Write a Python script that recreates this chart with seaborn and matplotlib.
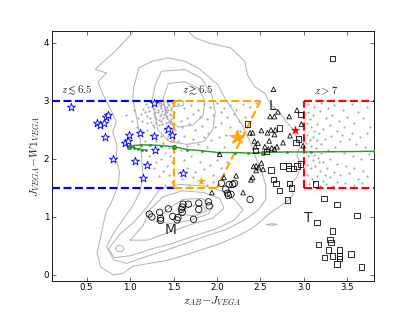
import matplotlib
matplotlib.use("Agg")
import matplotlib.pyplot as plt
import seaborn as sns

# ---------------------------------------------------------------------------
# data
# ---------------------------------------------------------------------------
# density contours of the background population (outlines, data coords)
contour_outer = [(1.08, 4.26), (0.92, 4.0), (0.81, 3.83), (0.65, 3.62), (0.60, 3.54), (0.73, 3.48),
                 (0.63, 3.33), (0.69, 3.10), (0.77, 2.87), (0.84, 2.64), (0.80, 2.46), (0.85, 2.23),
                 (0.84, 2.0), (0.88, 1.77), (0.86, 1.54), (0.80, 1.30), (0.72, 1.07), (0.67, 0.72),
                 (0.62, 0.38), (0.66, 0.14), (0.81, 0.0), (0.92, 0.03), (1.03, 0.15), (1.22, 0.20),
                 (1.42, 0.25), (1.65, 0.35), (1.85, 0.45), (2.05, 0.55), (2.25, 0.68), (2.40, 0.80),
                 (2.52, 0.95), (2.62, 1.08), (2.72, 1.18), (2.80, 1.26), (2.88, 1.38), (2.84, 1.55),
                 (2.92, 1.69), (2.97, 1.92), (2.92, 2.04), (2.95, 2.24), (2.88, 2.50), (2.78, 2.67),
                 (2.72, 2.81), (2.62, 2.93), (2.55, 3.13), (2.43, 3.25), (2.35, 3.45), (2.32, 3.68),
                 (2.16, 3.91), (1.90, 4.0), (1.74, 4.09), (1.63, 4.26)]
contour_2 = [(1.04, 3.22), (1.10, 3.57), (1.25, 3.68), (1.44, 3.74), (1.63, 3.68), (1.78, 3.57),
             (2.01, 3.28), (2.09, 3.04), (2.20, 2.80), (2.29, 2.58), (2.38, 2.30), (2.45, 2.0),
             (2.52, 1.75), (2.56, 1.54), (2.56, 1.30), (2.48, 1.13), (2.33, 0.96), (2.10, 0.78),
             (1.87, 0.67), (1.65, 0.55), (1.42, 0.43), (1.19, 0.32), (0.96, 0.20), (0.81, 0.26),
             (0.73, 0.49), (0.81, 0.72), (0.92, 0.96), (1.03, 1.19), (1.11, 1.42), (1.15, 1.71),
             (1.13, 2.06), (1.11, 2.40), (1.07, 2.75), (1.03, 3.04), (1.04, 3.22)]
contour_up1 = [(1.25, 3.0), (1.29, 3.28), (1.36, 3.51), (1.63, 3.54), (1.82, 3.39), (1.94, 3.10),
               (1.98, 2.80), (1.95, 2.50), (1.85, 2.30), (1.65, 2.25), (1.45, 2.30), (1.32, 2.50),
               (1.25, 3.0)]
contour_up2 = [(1.38, 3.05), (1.44, 3.30), (1.63, 3.33), (1.78, 3.22), (1.86, 3.01), (1.84, 2.75),
               (1.72, 2.58), (1.55, 2.55), (1.42, 2.70), (1.38, 3.05)]
contour_up3 = [(1.50, 2.93), (1.53, 3.0), (1.58, 3.02), (1.62, 2.98), (1.61, 2.92), (1.55, 2.90),
               (1.50, 2.93)]
contour_lo1 = [(0.75, 0.45), (0.88, 0.70), (1.05, 0.92), (1.20, 1.18), (1.34, 1.48), (1.57, 1.56),
               (1.87, 1.53), (2.05, 1.45), (2.20, 1.30), (2.30, 1.12), (2.20, 0.95), (2.0, 0.80),
               (1.75, 0.68), (1.50, 0.55), (1.25, 0.45), (1.0, 0.33), (0.82, 0.30), (0.75, 0.45)]
contour_lo2 = [(1.0, 0.6), (1.15, 0.85), (1.23, 1.13), (1.38, 1.35), (1.60, 1.45), (1.85, 1.42),
               (2.03, 1.32), (2.08, 1.15), (1.95, 0.98), (1.72, 0.88), (1.48, 0.75), (1.20, 0.60),
               (1.0, 0.6)]
contour_lo3 = [(1.30, 0.92), (1.42, 1.12), (1.60, 1.30), (1.82, 1.32), (1.96, 1.20), (1.90, 1.05),
               (1.70, 0.95), (1.50, 0.88), (1.30, 0.92)]
contour_lo4 = [(1.55, 1.05), (1.68, 1.18), (1.83, 1.20), (1.88, 1.10), (1.74, 1.02), (1.55, 1.05)]
contour_hex = [(0.83, 0.46), (0.86, 0.51), (0.91, 0.50), (0.93, 0.45), (0.90, 0.40), (0.85, 0.41),
               (0.83, 0.46)]
contour_dash = [(2.57, 0.87), (2.63, 0.885), (2.69, 0.87), (2.63, 0.855), (2.57, 0.87)]
contours = [contour_outer, contour_2, contour_up1, contour_up2, contour_up3,
            contour_lo1, contour_lo2, contour_lo3, contour_lo4, contour_hex, contour_dash]

# background sources (small grey dots)
dots_cluster = [(1.42, 2.98), (1.38, 2.95), (1.45, 2.93), (1.33, 2.97), (1.47, 2.88), (1.40, 2.90),
                (1.35, 2.88), (1.30, 2.92), (1.44, 2.85), (1.48, 2.96), (1.28, 2.86), (1.37, 2.82),
                (1.42, 2.80), (1.46, 2.78), (1.32, 2.80), (1.25, 2.90), (1.22, 2.82), (1.39, 2.76),
                (1.49, 2.72), (1.34, 2.74), (1.27, 2.77), (1.43, 2.70), (1.46, 2.66), (1.30, 2.68),
                (1.20, 2.74), (1.36, 2.65), (1.41, 2.62), (1.48, 2.60), (1.24, 2.64), (1.18, 2.95),
                (1.15, 2.86), (1.12, 2.78), (1.09, 2.70), (1.33, 2.58), (1.45, 2.55), (1.39, 2.52),
                (1.28, 2.55), (1.47, 2.84), (1.40, 2.86), (1.36, 2.92), (1.31, 2.99), (1.45, 3.0),
                (1.49, 2.91), (1.43, 2.74), (1.38, 2.70), (1.26, 2.95), (1.21, 2.89), (1.17, 2.80),
                (1.29, 2.73), (1.35, 2.96), (1.44, 2.95), (1.41, 2.84), (1.47, 2.69), (1.32, 2.84),
                (1.23, 2.70), (1.14, 2.66), (1.46, 2.62), (1.37, 2.60), (1.42, 2.57), (1.30, 2.62),
                (1.50, 2.80), (1.48, 2.50), (1.40, 2.46), (1.46, 2.44), (0.95, 2.75), (1.02, 2.65),
                (1.05, 2.85), (1.39, 2.99), (1.43, 2.89), (1.34, 2.91), (1.47, 2.75), (1.40, 2.79),
                (1.29, 2.81), (1.36, 2.77), (1.44, 2.64), (1.33, 2.67), (1.26, 2.59), (1.19, 2.61)]
dots_blue_box = [(1.35, 2.40), (1.42, 2.35), (1.47, 2.30), (1.38, 2.28), (1.45, 2.18), (1.30, 2.30),
                 (1.25, 2.42), (1.40, 2.10), (1.46, 2.05), (1.35, 2.00), (1.48, 1.95), (1.42, 1.88),
                 (1.30, 1.95), (1.38, 1.80), (1.45, 1.72), (1.33, 1.70), (1.22, 2.05), (1.17, 2.30),
                 (1.48, 1.60), (1.40, 1.55), (1.44, 2.40), (1.20, 2.50), (1.08, 2.55), (1.12, 2.48),
                 (1.50, 2.12), (1.27, 1.85)]
dots_orange_box = [(1.55, 2.95), (1.62, 2.88), (1.70, 2.92), (1.78, 2.85), (1.85, 2.95), (1.92, 2.90),
                   (2.00, 2.96), (2.08, 2.88), (2.15, 2.93), (2.22, 2.85), (2.30, 2.95), (2.38, 2.90),
                   (2.45, 2.97), (2.20, 2.78), (2.12, 2.72), (2.05, 2.80), (1.95, 2.75), (1.88, 2.68),
                   (1.80, 2.72), (1.72, 2.78), (1.65, 2.70), (1.58, 2.65), (1.60, 2.55), (1.68, 2.60),
                   (1.75, 2.50), (1.83, 2.57), (1.90, 2.45), (1.98, 2.55), (2.05, 2.62), (2.15, 2.55),
                   (2.25, 2.65), (2.32, 2.72), (2.10, 2.42), (2.02, 2.38), (1.93, 2.32), (1.85, 2.38),
                   (1.72, 2.35), (1.62, 2.40), (1.55, 2.30), (1.58, 2.15), (1.66, 2.22), (1.78, 2.25),
                   (1.88, 2.20), (1.70, 2.05), (1.62, 1.98), (1.80, 1.95), (1.92, 1.90), (2.00, 1.98),
                   (1.85, 1.82), (1.75, 1.78), (1.65, 1.85), (1.55, 1.75), (1.60, 1.65), (1.72, 1.68),
                   (1.95, 1.72), (2.05, 1.85), (2.12, 1.95), (2.08, 2.20), (2.18, 2.30), (2.26, 2.48),
                   (1.52, 2.50), (1.95, 1.60), (1.88, 1.55), (1.68, 1.55)]
dots_red_box = [(3.05, 2.95), (3.12, 2.90), (3.20, 2.97), (3.28, 2.88), (3.35, 2.93), (3.45, 2.85),
                (3.55, 2.95), (3.62, 2.80), (3.72, 2.90), (3.05, 2.80), (3.10, 2.75), (3.18, 2.82),
                (3.25, 2.70), (3.32, 2.75), (3.40, 2.65), (3.50, 2.72), (3.58, 2.62), (3.68, 2.70),
                (3.76, 2.55), (3.03, 2.62), (3.08, 2.55), (3.15, 2.60), (3.22, 2.52), (3.30, 2.58),
                (3.38, 2.48), (3.46, 2.55), (3.55, 2.45), (3.65, 2.38), (3.72, 2.45), (3.04, 2.42),
                (3.10, 2.38), (3.17, 2.45), (3.24, 2.35), (3.31, 2.40), (3.42, 2.30), (3.52, 2.35),
                (3.60, 2.25), (3.70, 2.20), (3.02, 2.28), (3.08, 2.22), (3.14, 2.18), (3.20, 2.25),
                (3.28, 2.15), (3.36, 2.20), (3.46, 2.10), (3.56, 2.05), (3.66, 2.00), (3.75, 2.08),
                (3.05, 2.05), (3.10, 1.98), (3.16, 2.02), (3.22, 1.95), (3.30, 2.00), (3.38, 1.92),
                (3.48, 1.88), (3.58, 1.85), (3.68, 1.80), (3.03, 1.90), (3.08, 1.84), (3.13, 1.88),
                (3.19, 1.80), (3.26, 1.85), (3.34, 1.78), (3.42, 1.72), (3.52, 1.75), (3.62, 1.65),
                (3.72, 1.70), (3.04, 1.72), (3.09, 1.66), (3.15, 1.70), (3.22, 1.62), (3.30, 1.68),
                (3.38, 1.60), (3.47, 1.58), (3.57, 1.55), (3.67, 1.58), (3.06, 1.56), (3.12, 1.60),
                (3.18, 1.54), (3.25, 1.57), (3.33, 1.53), (3.02, 2.12), (3.07, 2.32), (3.12, 2.48),
                (3.07, 2.68), (3.15, 2.32), (3.20, 2.10), (3.11, 2.07), (3.24, 1.72), (3.17, 1.94),
                (3.44, 2.42)]
grey_dots = dots_cluster + dots_blue_box + dots_orange_box + dots_red_box

# known quasars at z<~6.5 (open blue stars)
qso_low_x = [0.32, 0.62, 0.65, 0.70, 0.72, 0.75, 0.71, 0.80, 0.94, 0.97, 0.99, 1.06, 1.11,
             1.15, 1.20, 1.27, 1.29, 1.28, 1.44, 1.48, 1.61]
qso_low_y = [2.90, 2.61, 2.58, 2.62, 2.73, 2.76, 2.37, 1.99, 2.28, 2.30, 2.42, 1.96, 2.45,
             1.67, 1.89, 2.39, 2.15, 2.97, 2.51, 2.41, 1.76]
# quasars at z>~6.5 (orange) and z>7 (red)
qso_hi_x, qso_hi_y, qso_hi_size = [2.23, 1.82], [2.38, 1.62], [22, 11]
qso_z7_x, qso_z7_y = [2.90], [2.50]

# brown dwarfs / stars
m_x = [1.22, 1.25, 1.34, 1.35, 1.35, 1.44, 1.49, 1.54, 1.55, 1.59, 1.60, 1.61, 1.60, 1.67,
       1.73, 1.79, 1.79, 1.90, 1.91, 2.05, 2.10, 2.12, 2.14, 2.18, 2.13, 2.16, 2.20, 2.38]
m_y = [1.05, 1.00, 1.08, 0.98, 0.94, 1.14, 1.01, 0.95, 0.99, 1.13, 1.17, 1.22, 1.08, 1.22,
       0.96, 1.24, 1.13, 1.26, 1.19, 1.58, 1.48, 1.41, 1.56, 1.56, 1.37, 1.39, 1.58, 1.30]
l_x = [2.65, 2.70, 2.61, 2.66, 2.83, 2.92, 2.97, 2.41, 2.38, 2.51, 2.58, 2.62, 2.66, 2.67,
       2.84, 2.60, 2.43, 2.47, 2.44, 2.55, 2.59, 2.63, 2.66, 2.69, 2.76, 2.99, 2.03, 2.45,
       2.51, 2.48, 2.42, 2.45, 2.53, 2.41, 2.39, 2.22, 2.08, 2.30, 1.94]
l_y = [3.20, 2.81, 2.73, 2.73, 2.73, 2.84, 2.60, 2.45, 2.45, 2.49, 2.45, 2.50, 2.42, 2.50,
       2.40, 2.31, 2.31, 2.27, 2.21, 2.21, 2.17, 2.19, 2.17, 2.21, 2.28, 2.23, 2.08, 1.88,
       1.93, 1.85, 1.87, 1.80, 1.82, 1.68, 1.64, 1.71, 1.68, 1.42, 1.42]
t_x = [3.33, 2.35, 2.72, 2.96, 2.91, 2.94, 2.92, 2.96, 2.88, 2.82, 2.82, 2.76, 2.62, 2.65,
       2.68, 2.83, 2.86, 2.72, 2.81, 3.13, 3.23, 3.38, 3.15, 3.61, 3.17, 3.33, 3.30, 3.31,
       3.28, 3.41, 3.24, 3.33, 3.41, 3.41, 3.38, 3.54, 3.66, 2.44, 2.57]
t_y = [3.73, 2.60, 2.53, 2.76, 2.28, 2.34, 1.88, 1.91, 1.84, 1.83, 1.89, 1.88, 1.81, 1.65,
       1.58, 1.58, 1.50, 1.46, 1.29, 1.57, 1.32, 1.21, 0.90, 1.02, 0.53, 0.76, 0.61, 0.56,
       0.43, 0.43, 0.30, 0.33, 0.33, 0.28, 0.19, 0.36, 0.14, 2.14, 2.13]

# quasar colour track
track_x = [1.18, 1.14, 1.09, 1.04, 0.99, 1.03, 1.12, 1.23, 1.36, 1.50, 1.66, 1.83, 2.01,
           2.21, 2.36, 2.53, 2.80, 3.08, 3.80]
track_y = [2.15, 2.16, 2.17, 2.19, 2.21, 2.23, 2.24, 2.24, 2.23, 2.21, 2.16, 2.14, 2.11,
           2.11, 2.10, 2.11, 2.12, 2.12, 2.13]
track_major_x = [0.99, 1.50, 2.53]
track_major_y = [2.21, 2.21, 2.11]

# selection boxes
blue_box = [((0.1, 1.5), (3.0, 3.0)), ((0.1, 1.5), (1.5, 1.5))]
orange_box = [((1.5, 1.5), (1.5, 3.0)), ((1.5, 2.5), (3.0, 3.0)), ((2.5, 2.0), (3.0, 1.5)),
              ((1.5, 2.0), (1.5, 1.5))]
red_box = [((3.0, 3.0), (1.5, 3.0)), ((3.0, 3.8), (3.0, 3.0)), ((3.0, 3.8), (1.5, 1.5))]

# ---------------------------------------------------------------------------
# style
# ---------------------------------------------------------------------------
sns.set_style("ticks", {"xtick.direction": "in", "ytick.direction": "in"})
plt.rcParams.update({
    "font.family": ["DejaVu Sans"],
    "mathtext.fontset": "cm",
    "xtick.top": True, "ytick.right": True,
    "xtick.major.size": 6, "ytick.major.size": 6,
    "xtick.labelsize": 12, "ytick.labelsize": 12,
    "axes.edgecolor": "black", "axes.linewidth": 1.2,
    "xtick.color": "black", "ytick.color": "black",
})

fig = plt.figure(figsize=(415 / 52, 312 / 52), dpi=52)
ax = fig.add_axes([0.125, 0.1, 0.775, 0.8])

grey = "#b4b4b4"
for c in contours:
    ax.plot([p[0] for p in c], [p[1] for p in c], color=grey, lw=1.4, zorder=1)

sns.scatterplot(x=[p[0] for p in grey_dots], y=[p[1] for p in grey_dots], ax=ax,
                color="#a8a8a8", s=9, linewidth=0, zorder=2)

# selection boxes
for segs, col in [(blue_box, "#0000ff"), (red_box, "#ff0000"), (orange_box, "#ffa500")]:
    for xs, ys in segs:
        ax.plot(xs, ys, ls="--", color=col, lw=3, zorder=3, clip_on=False)

# quasar track
sns.lineplot(x=track_x, y=track_y, ax=ax, sort=False, estimator=None, color="#2b9a2b",
             lw=2, marker="o", markersize=4, markeredgewidth=0, zorder=4)
sns.scatterplot(x=track_major_x, y=track_major_y, ax=ax, color="#2b9a2b", s=55,
                linewidth=0, zorder=4)

# dwarfs
sns.scatterplot(x=m_x, y=m_y, ax=ax, marker="o", s=78, facecolor="none",
                edgecolor="black", linewidth=1.1, zorder=5)
sns.scatterplot(x=l_x, y=l_y, ax=ax, marker="^", s=42, facecolor="none",
                edgecolor="black", linewidth=1.1, zorder=5)
sns.scatterplot(x=t_x, y=t_y, ax=ax, marker="s", s=55, facecolor="none",
                edgecolor="black", linewidth=1.1, zorder=5)

# quasars
sns.scatterplot(x=qso_low_x, y=qso_low_y, ax=ax, marker="*", s=135, facecolor="white",
                edgecolor="#0000ff", linewidth=1.2, zorder=6)
for x, y, ms in zip(qso_hi_x, qso_hi_y, qso_hi_size):
    ax.plot(x, y, marker="*", ms=ms, color="#ffa500", mec="#ffa500", zorder=7)
sns.scatterplot(x=qso_z7_x, y=qso_z7_y, ax=ax, marker="*", s=200, color="#ff0000",
                linewidth=0, zorder=7)

# labels
ax.text(0.21, 3.07, r"$z\lesssim6.5$", fontsize=15, va="bottom")
ax.text(1.60, 3.07, r"$z\gtrsim6.5$", fontsize=15, va="bottom")
ax.text(3.11, 3.07, r"$z>7$", fontsize=15, va="bottom")
ax.text(2.64, 2.91, "L", fontsize=19, ha="center", va="center")
ax.text(1.46, 0.77, "M", fontsize=19, ha="center", va="center")
ax.text(3.05, 0.98, "T", fontsize=19, ha="center", va="center")

ax.set_xlim(0.1, 3.8)
ax.set_ylim(-0.1, 4.2)
ax.set_xticks([0.5, 1.0, 1.5, 2.0, 2.5, 3.0, 3.5])
ax.set_yticks([0, 1, 2, 3, 4])
ax.set_xlabel(r"$z_{AB}{-}J_{VEGA}$", fontsize=16, labelpad=2)
ax.set_ylabel(r"$J_{VEGA}{-}W1_{VEGA}$", fontsize=16, labelpad=2)

fig.savefig("out.png", dpi=52)
